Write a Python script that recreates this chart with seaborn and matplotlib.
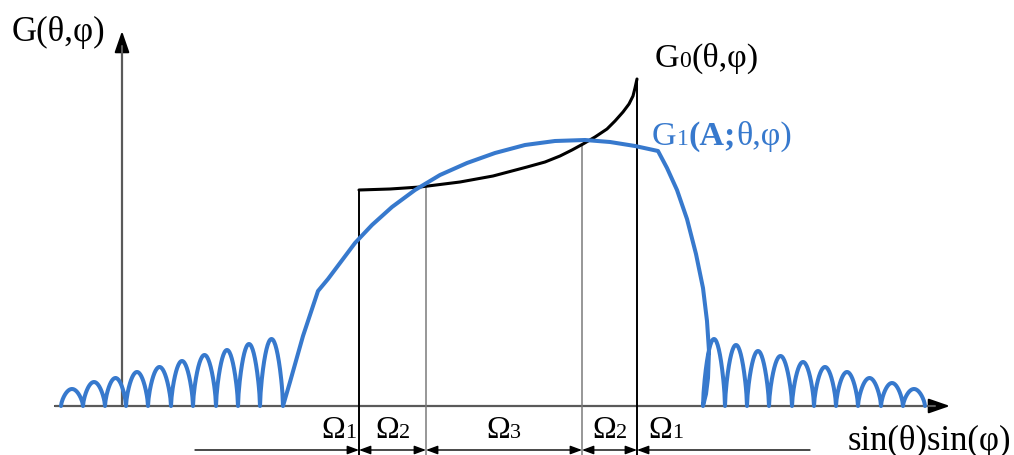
import numpy as np
import pandas as pd
import seaborn as sns
import matplotlib.pyplot as plt
from matplotlib.transforms import offset_copy

# x in picture units (0..1014), heights measured up from the x axis
left_zeros = [61, 83, 105, 126, 148, 171, 193, 216, 238, 260, 283]
left_peaks = [17, 24, 28, 34, 39, 45, 51, 56, 62, 67]
right_zeros = [703, 725, 747, 769, 792, 814, 836, 858, 881, 903, 925]
right_peaks = [67, 61, 55, 50, 44, 39, 34, 28, 23, 17]

# main beam of G1(A;θ,φ)
beam_x = [283, 290, 303, 318, 328, 340, 355, 372, 392, 415, 440, 467, 495,
          525, 555, 585, 610, 635, 658, 667, 677, 687, 696, 703, 707, 709,
          708, 706, 703]
beam_h = [0, 24, 70, 115, 127, 143, 163, 181, 199, 216, 231, 243, 253,
          261, 265, 266, 264, 260, 255, 238, 216, 187, 152, 118, 85, 55,
          28, 12, 0]

# ideal pattern G0(θ,φ)
g0_x = [359, 390, 420, 460, 493, 527, 545, 560, 572, 583, 595, 607, 615,
        623, 629, 633, 635, 637]
g0_h = [216, 217, 219, 224, 230, 239, 244, 250, 256, 262, 269, 277, 285,
        294, 302, 310, 318, 327]

edges = [359, 426, 582, 637]
region_ids = ['1', '2', '3', '2', '1']
outer_left, outer_right = 195, 810

BLUE = '#3779cd'
SERIF = 'Liberation Serif'

sns.set_theme(style='white')
plt.rcParams['font.family'] = [SERIF, 'DejaVu Sans']


def lobes(zeros, peaks, n=40):
    xs, hs = [], []
    for a, b, p in zip(zeros[:-1], zeros[1:], peaks):
        t = np.linspace(0, 1, n)
        xs += list(a + (b - a) * t)
        hs += list(p * np.sin(np.pi * t) ** 0.65)
    return xs, hs


def rich_text(ax, x, y, pieces, ha='left', color='black'):
    fig = ax.figure
    r = fig.canvas.get_renderer()
    arts, width = [], 0
    for s, size, weight in pieces:
        t = ax.text(x, y, s, fontsize=size, fontweight=weight, color=color,
                    va='baseline', ha='left', family=SERIF)
        arts.append((t, width))
        width += t.get_window_extent(r).width
    shift = {'left': 0, 'center': -width / 2, 'right': -width}[ha]
    for t, off in arts:
        t.set_transform(offset_copy(ax.transData, fig=fig, x=off + shift, units='dots'))


fig = plt.figure(figsize=(10.14, 4.56), dpi=100)
ax = fig.add_axes([0, 0, 1, 1])
ax.set_xlim(0, 1014)
ax.set_ylim(-49, 407)
ax.axis('off')

# blue pattern: left side lobes + main beam + right side lobes
lx, lh = lobes(left_zeros, left_peaks)
rx, rh = lobes(right_zeros, right_peaks)
g1 = pd.DataFrame({'x': lx + beam_x + rx, 'h': lh + beam_h + rh})
sns.lineplot(data=g1, x='x', y='h', sort=False, estimator=None, color=BLUE,
             lw=2.9, ax=ax, zorder=4)

# G0 curve with its edges
g0 = pd.DataFrame({'x': g0_x, 'h': g0_h})
sns.lineplot(data=g0, x='x', y='h', sort=False, estimator=None, color='black',
             lw=2.2, ax=ax, zorder=3)
for i, e in enumerate(edges):
    top = np.interp(e, g0_x, g0_h)
    outer = i in (0, len(edges) - 1)
    ax.plot([e, e], [-49, top], color='black' if outer else '#7a7a7a',
            lw=1.4 if outer else 1.1, zorder=2)

# axes with arrows
ax.annotate('', xy=(950, 0), xytext=(55, 0),
            arrowprops=dict(arrowstyle='-|>,head_length=13,head_width=4.5', mutation_scale=1,
                            lw=1.5, fc='black', ec='black',
                            shrinkA=0, shrinkB=0), zorder=1)
ax.plot([55, 935], [0, 0], color='#5a5a5a', lw=1.5, zorder=1)
ax.annotate('', xy=(122, 375), xytext=(122, 0),
            arrowprops=dict(arrowstyle='-|>,head_length=13,head_width=4.5', mutation_scale=1,
                            lw=1.5, fc='black', ec='black',
                            shrinkA=0, shrinkB=0), zorder=1)
ax.plot([122, 122], [0, 360], color='#5a5a5a', lw=1.5, zorder=1)

# region arrows under the axis
arrow_y = -44
small = dict(mutation_scale=1, lw=1.0, color='black', shrinkA=0, shrinkB=0)
ax.annotate('', xy=(edges[0], arrow_y), xytext=(outer_left, arrow_y),
            arrowprops=dict(arrowstyle='-|>,head_length=7,head_width=2.6', **small))
ax.annotate('', xy=(edges[-1], arrow_y), xytext=(outer_right, arrow_y),
            arrowprops=dict(arrowstyle='-|>,head_length=7,head_width=2.6', **small))
for a, b in zip(edges[:-1], edges[1:]):
    ax.annotate('', xy=(b, arrow_y), xytext=(a, arrow_y),
                arrowprops=dict(arrowstyle='<|-|>,head_length=7,head_width=2.6', **small))

# region labels
label_y = -31
om_size, sub_size = 23, 16
centers = [edges[0] - 3] + [(a + b) / 2 for a, b in zip(edges[:-1], edges[1:])] + [edges[-1] + 11]
aligns = ['right', 'center', 'center', 'center', 'left']
for c, k, al in zip(centers, region_ids, aligns):
    rich_text(ax, c, label_y, [('\u03a9', om_size, 'normal'), (k, sub_size, 'normal')], ha=al)

# texts
rich_text(ax, 12, 366, [('G(\u03b8,\u03c6)', 25, 'normal')])
rich_text(ax, 655, 340, [('G', 24.5, 'normal'), ('0', 17, 'normal'), ('(\u03b8,\u03c6)', 24.5, 'normal')])
rich_text(ax, 652, 262, [('G', 24.5, 'normal'), ('1', 17, 'normal'), ('(A;', 24.5, 'bold'),
                         ('\u03b8,\u03c6)', 24.5, 'normal')], color=BLUE)
rich_text(ax, 848, -43, [('sin(\u03b8)sin(\u03c6)', 25, 'normal')])

fig.savefig('out.png', dpi=100)
